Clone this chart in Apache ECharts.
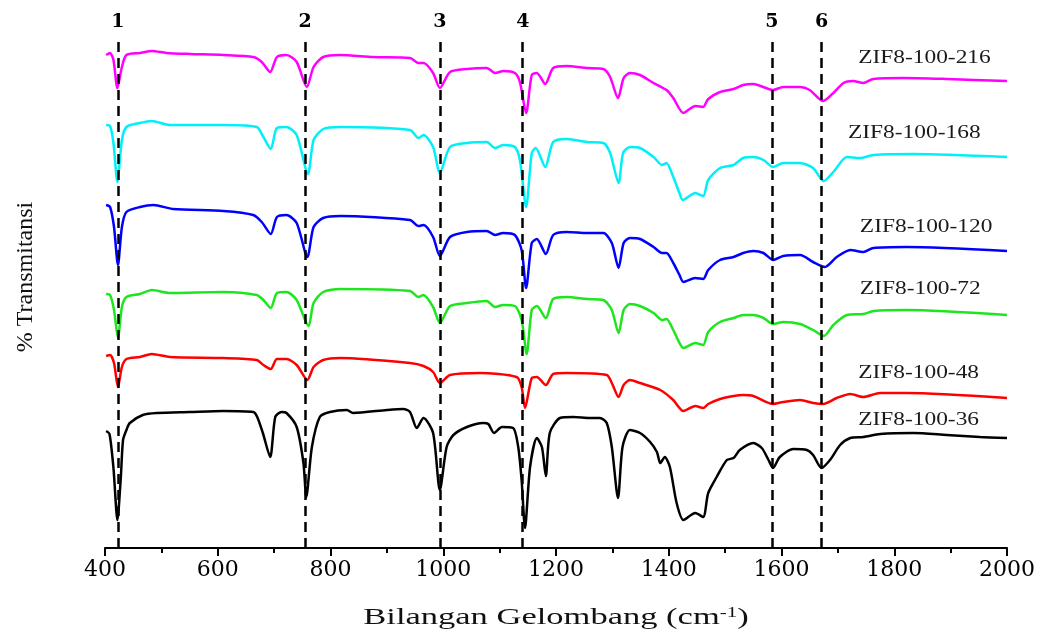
<!DOCTYPE html>
<html>
<head>
<meta charset="utf-8">
<title>FTIR ZIF-8</title>
<script src="https://cdn.jsdelivr.net/npm/echarts@6/dist/echarts.min.js"></script>
<style>
  html, body { margin: 0; padding: 0; background: #fff; }
  #chart { width: 1041px; height: 632px; }
</style>
</head>
<body>
<div id="chart"></div>
<script>
// FTIR spectra, stacked: [wavenumber (cm-1), transmittance (a.u., offset per sample)]
const zif216 = [[402,493],[409,495],[415,488],[422,460],[430,481],[438,493],[462,495],[483,497],[509,495],[551,494],[610,493],[663,491],[678,486],[693,476],[705,491],[722,493],[740,486],[758,461],[770,481],[787,491],[817,493],[876,491],[941,490],[956,485],[965,485],[982,475],[994,460],[1012,476],[1042,479],[1077,480],[1092,475],[1107,477],[1127,475],[1136,466],[1147,435],[1157,473],[1166,475],[1181,464],[1195,480],[1219,482],[1255,480],[1284,479],[1296,471],[1310,450],[1320,470],[1331,475],[1349,473],[1373,465],[1396,458],[1408,450],[1426,435],[1447,442],[1461,441],[1470,449],[1491,456],[1515,459],[1532,463],[1550,464],[1585,458],[1603,461],[1633,461],[1650,458],[1674,447],[1692,455],[1710,465],[1727,467],[1745,465],[1763,469],[1816,470],[1893,469],[2000,467]];
const zif168 = [[402,423],[409,422],[415,405],[422,366],[430,408],[438,421],[462,425],[483,427],[515,423],[610,423],[669,421],[681,411],[694,399],[705,420],[722,421],[740,413],[760,374],[770,408],[787,419],[817,421],[941,418],[956,410],[965,413],[982,401],[994,375],[1012,401],[1042,405],[1077,406],[1092,400],[1106,403],[1127,401],[1136,388],[1147,341],[1157,395],[1164,400],[1181,381],[1195,406],[1219,409],[1255,406],[1284,405],[1296,395],[1311,365],[1319,395],[1331,401],[1349,400],[1373,391],[1388,383],[1396,385],[1408,371],[1419,355],[1425,348],[1447,355],[1461,352],[1470,368],[1491,380],[1515,383],[1532,390],[1550,391],[1568,388],[1585,381],[1603,385],[1633,385],[1656,380],[1675,367],[1692,376],[1716,391],[1739,390],[1763,393],[1834,394],[2000,391]];
const zif120 = [[402,343],[409,341],[416,321],[423,283],[430,321],[438,336],[462,341],[486,343],[521,339],[610,337],[663,333],[678,326],[694,314],[705,331],[722,333],[740,325],[759,291],[770,321],[787,330],[817,332],[941,328],[956,322],[965,323],[982,311],[994,292],[1012,311],[1042,316],[1077,317],[1092,313],[1106,315],[1127,313],[1139,298],[1147,260],[1157,305],[1166,309],[1182,294],[1195,313],[1219,316],[1255,315],[1284,315],[1299,305],[1311,280],[1320,305],[1331,310],[1349,309],[1373,301],[1388,295],[1396,295],[1408,285],[1419,273],[1426,266],[1447,270],[1461,269],[1470,278],[1491,288],[1515,291],[1532,295],[1550,297],[1568,295],[1585,288],[1603,292],[1633,293],[1656,286],[1677,281],[1698,291],[1722,298],[1745,296],[1763,300],[1822,301],[2000,297]];
const zif72 = [[402,254],[409,253],[416,238],[423,210],[430,241],[438,251],[462,254],[483,258],[515,255],[610,256],[669,253],[681,248],[694,240],[705,255],[722,256],[740,248],[761,222],[770,245],[787,256],[817,259],[941,257],[956,251],[965,253],[982,241],[994,225],[1012,242],[1042,245],[1077,247],[1092,241],[1106,243],[1127,242],[1139,228],[1148,194],[1157,238],[1166,242],[1182,230],[1195,249],[1219,251],[1255,249],[1284,248],[1299,238],[1311,215],[1320,238],[1331,244],[1349,242],[1373,235],[1388,228],[1396,229],[1408,218],[1419,205],[1426,200],[1447,205],[1461,203],[1470,216],[1491,226],[1515,230],[1532,233],[1550,233],[1568,230],[1585,224],[1603,226],[1633,224],[1656,218],[1675,212],[1692,223],[1716,233],[1745,234],[1763,237],[1822,238],[2000,233]];
const zif48 = [[402,192],[409,193],[416,185],[423,161],[430,181],[438,189],[462,191],[483,194],[515,191],[610,190],[669,188],[681,183],[694,179],[705,189],[722,189],[740,183],[759,168],[770,181],[787,188],[817,190],[941,185],[965,182],[982,176],[994,165],[1012,173],[1065,175],[1130,171],[1139,161],[1145,140],[1157,170],[1166,171],[1182,163],[1195,174],[1219,175],[1290,173],[1299,165],[1311,151],[1320,163],[1331,168],[1349,165],[1385,158],[1408,148],[1426,137],[1447,142],[1461,140],[1470,144],[1491,149],[1515,152],[1532,153],[1550,152],[1585,144],[1603,146],[1633,148],[1656,145],[1674,144],[1698,150],[1722,154],[1745,151],[1775,155],[1822,155],[2000,150]];
const zif36 = [[402,117],[408,114],[415,80],[422,28],[428,70],[432,108],[438,118],[444,125],[467,133],[492,135],[550,136],[610,137],[663,136],[670,131],[680,115],[693,91],[702,131],[713,136],[722,135],[740,121],[752,85],[757,51],[767,101],[781,131],[799,136],[829,138],[840,135],[900,138],[929,139],[941,136],[953,120],[965,130],[982,115],[994,58],[1006,101],[1018,113],[1042,121],[1071,125],[1080,124],[1090,115],[1104,121],[1124,120],[1133,101],[1139,68],[1145,20],[1154,81],[1166,110],[1175,101],[1182,72],[1189,115],[1207,130],[1231,131],[1260,130],[1278,130],[1290,125],[1299,101],[1310,50],[1318,101],[1331,118],[1349,115],[1367,106],[1379,96],[1385,85],[1393,91],[1402,81],[1414,45],[1426,28],[1447,35],[1461,31],[1470,55],[1485,71],[1503,88],[1515,90],[1526,98],[1550,105],[1565,100],[1577,88],[1585,80],[1597,91],[1621,99],[1645,98],[1656,93],[1671,80],[1686,88],[1704,103],[1722,110],[1745,111],[1775,114],[1834,115],[1893,113],[1952,111],[2000,110]];

const sampleNames = ['ZIF8-100-216', 'ZIF8-100-168', 'ZIF8-100-120', 'ZIF8-100-72', 'ZIF8-100-48', 'ZIF8-100-36'];
const sampleColors = ['#ff00ff', '#00f0f8', '#0000ff', '#1ee61e', '#ff0000', '#000000'];
// where each sample name sits: [wavenumber, a.u.]
const nameAnchors = [[1736, 490], [1718, 415], [1739, 321], [1739, 259], [1736, 175], [1736, 128]];

// marked bands (cm-1) and their numbers
const bandPositions = [423, 755, 994, 1141, 1583, 1671];
const bandNumbers = ['1', '2', '3', '4', '5', '6'];

const xTicks = { min: 400, max: 2000, step: 200 };

const chart = echarts.init(document.getElementById('chart'), null, { renderer: 'canvas' });
const spectra = [zif216, zif168, zif120, zif72, zif48, zif36];

const series = spectra.map((d, i) => ({
  name: sampleNames[i],
  type: 'line',
  data: d,
  showSymbol: false,
  symbol: 'none',
  smooth: 0.25,
  z: 2,
  lineStyle: { color: sampleColors[i], width: 2.5 },
  itemStyle: { color: sampleColors[i] }
}));

series.push({
  name: 'bands',
  type: 'line',
  data: [],
  z: 5,
  markLine: {
    silent: true,
    symbol: 'none',
    animation: false,
    lineStyle: { color: '#000', width: 2.5, type: [10, 6] },
    label: {
      show: true,
      position: 'end',
      distance: 4,
      formatter: p => p.name,
      color: '#000',
      fontFamily: 'DejaVu Serif',
      fontWeight: 'bold',
      fontSize: 19
    },
    data: bandPositions.map((x, i) => ({ xAxis: x, name: bandNumbers[i] }))
  }
});

chart.setOption({
  animation: false,
  backgroundColor: '#fff',
  grid: { left: 105, right: 34, top: 36, bottom: 84 },
  xAxis: {
    type: 'value',
    min: xTicks.min,
    max: xTicks.max,
    interval: xTicks.step,
    axisLine: { show: true, lineStyle: { color: '#000', width: 2 } },
    axisTick: { show: true, inside: false, length: 8, lineStyle: { color: '#000', width: 2 } },
    minorTick: { show: true, splitNumber: 2, length: 5, lineStyle: { color: '#000', width: 2 } },
    splitLine: { show: false },
    axisLabel: {
      color: '#000',
      fontFamily: 'DejaVu Serif',
      fontSize: 22,
      margin: 11,
      formatter: v => String(v)
    }
  },
  yAxis: {
    type: 'value',
    min: 0,
    max: 512,
    show: false
  },
  series: series
});

// text set in a narrow serif, widened to the figure's proportions
const graphics = nameAnchors.map((a, i) => {
  const p = chart.convertToPixel({ gridIndex: 0 }, a);
  return {
    type: 'text',
    x: p[0],
    y: p[1],
    scaleX: 1.3,
    z: 10,
    style: {
      text: sampleNames[i],
      x: 0, y: 0,
      textAlign: 'left',
      textVerticalAlign: 'middle',
      font: '18px "Liberation Serif"',
      fill: '#1a1a1a'
    }
  };
});

graphics.push({
  type: 'text',
  x: 556,
  y: 618,
  scaleX: 1.5,
  z: 10,
  style: {
    text: '{a|Bilangan Gelombang (cm}{s|-1}{a|)}',
    x: 0, y: 0,
    textAlign: 'center',
    textVerticalAlign: 'middle',
    rich: {
      a: { fontFamily: 'Liberation Serif', fontSize: 23, fill: '#111' },
      s: { fontFamily: 'Liberation Serif', fontSize: 14, fill: '#111', verticalAlign: 'top', padding: [0, 0, 8, 0] }
    }
  }
});

graphics.push({
  type: 'text',
  x: 26,
  y: 277,
  rotation: Math.PI / 2,
  z: 10,
  style: {
    text: '% Transmitansi',
    x: 0, y: 0,
    textAlign: 'center',
    textVerticalAlign: 'middle',
    font: '24px "Liberation Serif"',
    fill: '#111'
  }
});

chart.setOption({ graphic: graphics });
</script>
</body>
</html>
